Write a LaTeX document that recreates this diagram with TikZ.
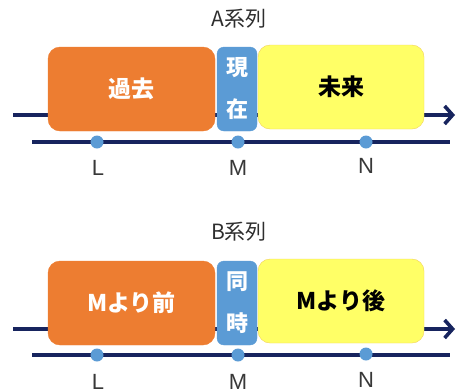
\documentclass[tikz,border=0pt]{standalone}
\usepackage{fontspec}
\setmainfont{Liberation Sans}
\newfontfamily\cjk{Noto Sans CJK JP}
\usetikzlibrary{arrows.meta}
\definecolor{navy}{HTML}{17245E}
\definecolor{orng}{HTML}{ED7D31}
\definecolor{sky}{HTML}{5B9BD5}
\definecolor{yel}{HTML}{FFFF66}
\definecolor{yelb}{HTML}{F2D15A}
\tikzset{
  box/.style={rounded corners=12pt, inner sep=0pt, minimum height=84pt, font=\cjk\bfseries\fontsize{23}{25}\selectfont},
  obox/.style={box, fill=orng, draw=orng, text=white, minimum width=167pt},
  bbox/.style={box, fill=sky, draw=sky, text=white, minimum width=40pt, rounded corners=7pt, align=center, font=\cjk\bfseries\fontsize{22}{42}\selectfont},
  ybox/.style={box, fill=yel, draw=yelb, text=black, minimum width=166pt},
  axis/.style={draw=navy, line width=3.6pt},
  arr/.style={axis, -{Straight Barb[length=8pt,width=18pt,line width=3.6pt]}},
  dot/.style={circle, fill=sky, inner sep=0pt, minimum size=13pt},
  lab/.style={font=\fontsize{22}{24}\selectfont, text=black!78},
  ttl/.style={font=\cjk\fontsize{21}{23}\selectfont, text=black!82},
}
\begin{document}
\begin{tikzpicture}[x=1pt,y=-1pt]
\useasboundingbox (0,0) rectangle (457,389);
% ---------- A series
\node[ttl] (ta) at (239,19) {A系列};
\coordinate (a0) at (13,115);
\coordinate (a1) at (455,115);
\draw[arr] (a0) -- (a1);
\node[obox] (past) at (131.5,89) {過去};
\node[bbox] (now) at (237,89) {現\\在};
\node[ybox] (fut) at (341,87) {未来};
\coordinate (b0) at (32,142);
\coordinate (b1) at (450,142);
\draw[axis] (b0) -- (b1);
\node[dot] (L1) at (97,142) {};
\node[dot] (M1) at (238,142) {};
\node[dot] (N1) at (366,142) {};
\node[lab] (l1) at (98,168) {L};
\node[lab] (m1) at (238,168) {M};
\node[lab] (n1) at (366,166) {N};
% ---------- B series
\node[ttl] (tb) at (239,232) {B系列};
\coordinate (c0) at (13,329);
\coordinate (c1) at (455,329);
\draw[arr] (c0) -- (c1);
\node[obox] (before) at (131.5,303) {Mより前};
\node[bbox] (same) at (237,303) {同\\時};
\node[ybox] (after) at (341,301) {Mより後};
\coordinate (d0) at (32,355);
\coordinate (d1) at (450,355);
\draw[axis] (d0) -- (d1);
\node[dot] (L2) at (97,355) {};
\node[dot] (M2) at (238,355) {};
\node[dot] (N2) at (366,354) {};
\node[lab] (l2) at (98,382) {L};
\node[lab] (m2) at (238,382) {M};
\node[lab] (n2) at (366,380) {N};
\end{tikzpicture}
\end{document}
